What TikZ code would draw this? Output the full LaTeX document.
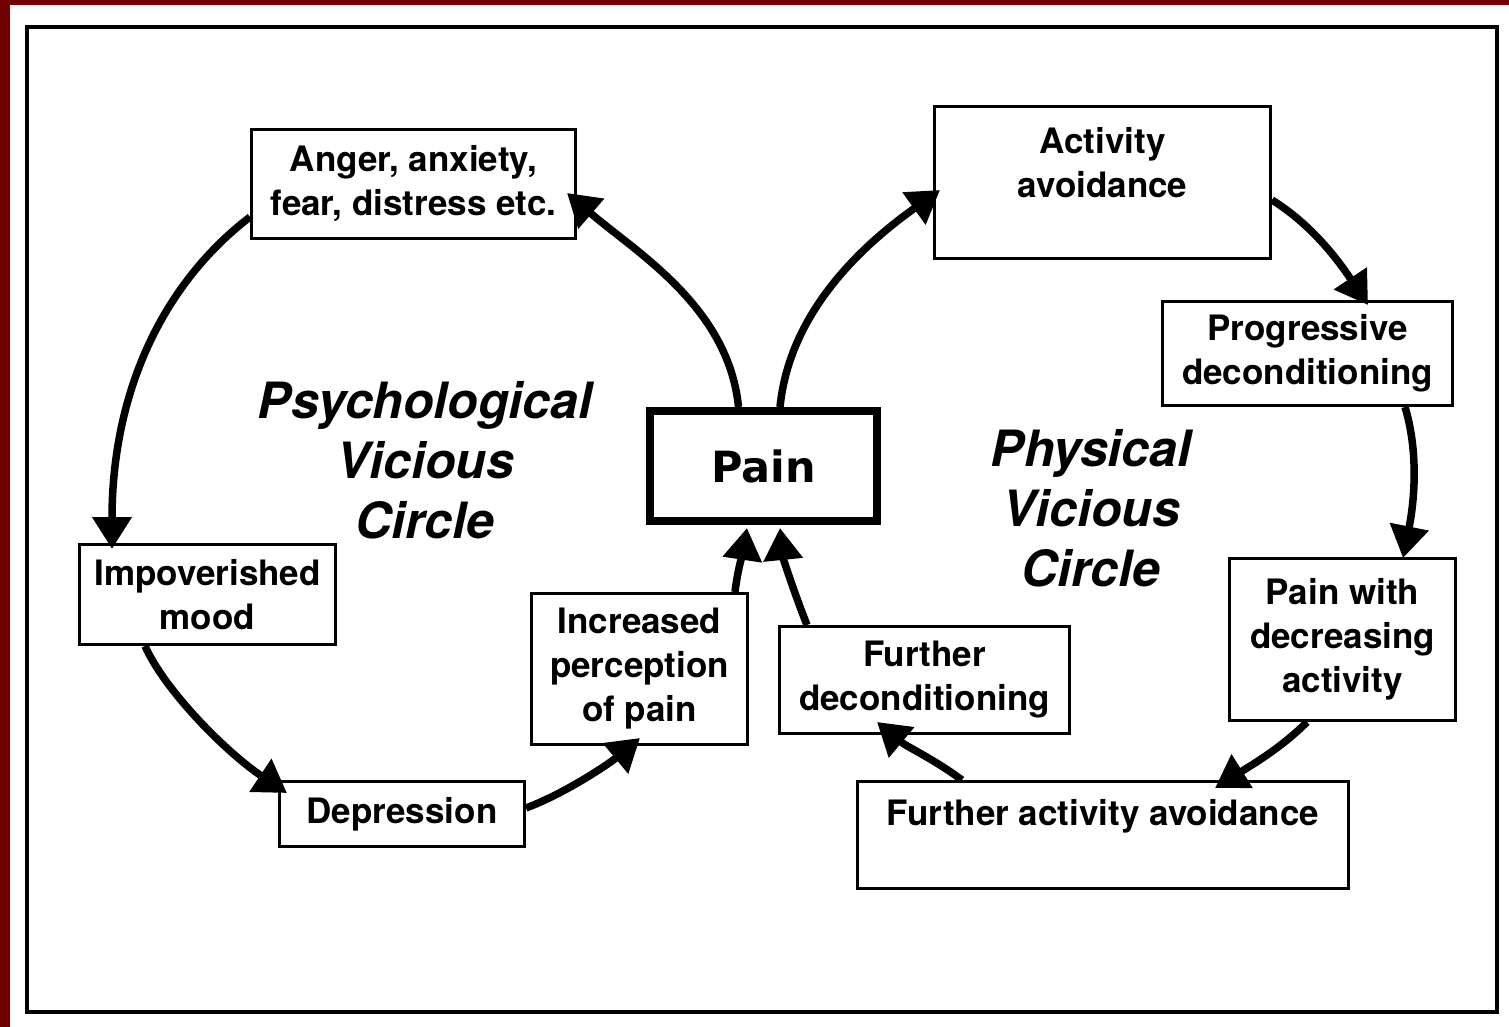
\documentclass[tikz,border=0pt]{standalone}
\usepackage{fontspec}
\setmainfont{TeX Gyre Heros}
\newfontfamily\painfont{DejaVu Sans}
\usetikzlibrary{arrows.meta,calc}
\definecolor{frameRed}{RGB}{110,0,0}
\tikzset{
  boxfont/.style={font=\fontsize{35}{44}\selectfont\bfseries},
  box/.style={draw, line width=3pt, rectangle, inner sep=0pt, align=center, boxfont},
  painbox/.style={draw, line width=8pt, rectangle, inner sep=0pt, font=\painfont\bfseries\fontsize{43}{50}\selectfont},
  flow/.style={line width=7.5pt, -{Triangle[length=32pt,width=38pt]}},
  circlelabel/.style={align=center, font=\fontsize{50}{60}\selectfont\bfseries\itshape},
}
\begin{document}
\begin{tikzpicture}[x=1pt,y=-1pt]
\fill[frameRed] (0,0) rectangle (1509,1027);
\fill[white] (10,5) rectangle (1509,1027);
\useasboundingbox (0,0) rectangle (1509,1027);
\draw[line width=3.5pt] (27,27) rectangle (1497,1012);

% nodes
\node[box, minimum width=324pt, minimum height=109pt] (anger) at (413.5,184) {Anger, anxiety,\\fear, distress etc.};
\node[box, minimum width=336pt, minimum height=152pt,
      label={[boxfont, align=center, yshift=20pt]center:{Activity\\avoidance}}] (activity) at (1102.5,182.5) {};
\node[box, minimum width=290pt, minimum height=104pt] (progressive) at (1307.5,353.5) {Progressive\\deconditioning};
\node[box, minimum width=226pt, minimum height=162pt] (painwith) at (1342.5,639.5) {Pain with\\decreasing\\activity};
\node[box, minimum width=491pt, minimum height=107pt,
      label={[boxfont, align=center, yshift=19pt]center:{Further activity avoidance}}] (furtheract) at (1103,835) {};
\node[box, minimum width=290pt, minimum height=107pt] (furtherdecond) at (924.5,680) {Further\\deconditioning};
\node[painbox, minimum width=227pt, minimum height=110pt] (pain) at (763.5,466) {Pain};
\node[box, minimum width=216pt, minimum height=151pt] (increased) at (639.5,669) {Increased\\perception\\of pain};
\node[box, minimum width=245pt, minimum height=65pt] (depression) at (402,814) {Depression};
\node[box, minimum width=256pt, minimum height=100pt] (impoverished) at (207.5,594.5) {Impoverished\\mood};

\node[circlelabel] (psylabel) at (425,460) {Psychological\\Vicious\\Circle};
\node[circlelabel] (phylabel) at (1091,508) {Physical\\Vicious\\Circle};

% connectors
\draw[flow] ($(pain.north)+(-25,0)$) .. controls +(-10,-100) and +(70,60) .. ($(anger.south east)+(-10,-47)$);
\draw[flow] ($(pain.north)+(16.5,0)$) .. controls +(10,-100) and +(-70,50) .. ($(activity.west)+(7,7.5)$);
\draw[flow] ($(activity.east)+(0,17.5)$) .. controls +(40,25) and +(-30,-45) .. ($(progressive.north)+(60.5,5)$);
\draw[flow] ($(progressive.south)+(97.5,0)$) .. controls +(15,50) and +(10,-50) .. ($(painwith.north)+(60.5,1)$);
\draw[flow] ($(painwith.south)+(-35.5,0)$) .. controls +(-25,25) and +(40,-25) .. ($(furtheract.north)+(112,8)$);
\draw[flow] ($(furtheract.north)+(-141,0)$) .. controls +(-30,-22) and +(30,25) .. ($(furtherdecond.south)+(-47.5,-13)$);
\draw[flow] ($(furtherdecond.north)+(-117.5,0)$) .. controls +(-12,-30) and +(3,30) .. ($(pain.south)+(16.5,3)$);
\draw[flow] ($(increased.north)+(95.5,0)$) .. controls +(3,-25) and +(-3,20) .. ($(pain.south)+(-16.5,3)$);
\draw[flow] ($(depression.east)+(0,-6)$) .. controls +(40,-15) and +(-30,25) .. ($(increased.south)+(0.5,-8)$);
\draw[flow] ($(impoverished.south)+(-62.5,0)$) .. controls +(20,45) and +(-60,-40) .. ($(depression.north west)+(9,13)$);
\draw[flow] ($(anger.west)+(0,33)$) .. controls +(-85,65) and +(0,-160) .. ($(impoverished.north)+(-95.5,6)$);
\end{tikzpicture}
\end{document}
